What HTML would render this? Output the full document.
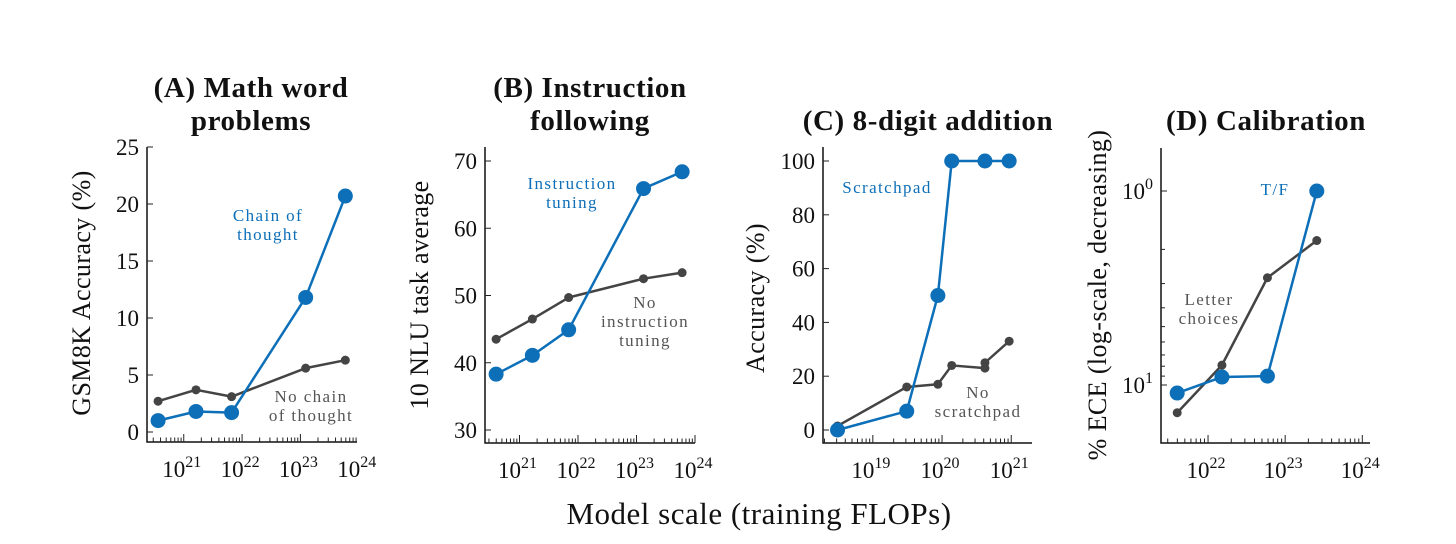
<!DOCTYPE html>
<html><head><meta charset="utf-8">
<style>
html,body{margin:0;padding:0;background:#fff;}
svg{display:block;font-family:"Liberation Serif","DejaVu Serif",serif;}
.title{font-weight:bold;font-size:29px;fill:#111;text-anchor:middle;letter-spacing:0.6px;}
.tick{font-size:23px;fill:#111;}
.ylab{font-size:26px;fill:#111;text-anchor:middle;letter-spacing:0.4px;}
.ann{font-size:17px;letter-spacing:1.4px;text-anchor:middle;}
</style></head>
<body>
<svg id="chart" width="1456" height="544">
<text class="title" x="251" y="97">(A) Math word</text>
<text class="title" x="251" y="130">problems</text>
<text class="title" x="590" y="97">(B) Instruction</text>
<text class="title" x="590" y="130">following</text>
<text class="title" x="928" y="130">(C) 8-digit addition</text>
<text class="title" x="1266" y="130">(D) Calibration</text>
<text x="759" y="524" style="font-size:31px;fill:#111;text-anchor:middle;letter-spacing:0.5px">Model scale (training FLOPs)</text>
</svg>
<script>
// Panel A data
const aLogX = [20.56, 21.21, 21.82, 23.09, 23.77];
const aCot = [1.0, 1.8, 1.7, 11.8, 20.7];
const aNoCot = [2.7, 3.7, 3.1, 5.6, 6.3];
const aYTicks = [0, 5, 10, 15, 20, 25];
const aXTicks = [21, 22, 23, 24];
// Panel B data
const bLogX = [20.6, 21.22, 21.84, 23.12, 23.78];
const bTuned = [38.3, 41.1, 44.9, 65.9, 68.4];
const bUntuned = [43.5, 46.5, 49.7, 52.5, 53.4];
const bYTicks = [30, 40, 50, 60, 70];
const bXTicks = [21, 22, 23, 24];
// Panel C data
const cLogXBlue = [18.49, 19.49, 19.94, 20.14, 20.62, 20.97];
const cScratch = [0, 7, 50, 100, 100, 100];
const cLogXGray = [18.49, 19.49, 19.94, 20.14, 20.62, 20.62, 20.97];
const cNoScratch = [1.5, 16, 17, 24, 23, 25, 33];
const cYTicks = [0, 20, 40, 60, 80, 100];
const cXTicks = [19, 20, 21];
// Panel D data (ECE; axis is log and decreasing)
const dLogX = [21.6, 22.18, 22.77, 23.41];
const dTF = [11, 9.1, 9.0, 1.0];
const dLetter = [13.9, 7.9, 2.8, 1.8];
const dYTicks = [1, 10];
const dXTicks = [22, 23, 24];

const NS = "http://www.w3.org/2000/svg";
const svg = document.getElementById('chart');
const BLUE = "#0d6fb8", GRAY = "#444";
function el(tag, attrs, parent) {
  const e = document.createElementNS(NS, tag);
  for (const k in attrs) e.setAttribute(k, attrs[k]);
  (parent || svg).appendChild(e);
  return e;
}
function powText(t, exp) {
  const s1 = el('tspan', {}, t); s1.textContent = '10';
  const s2 = el('tspan', {dy: -10, 'font-size': '16px'}, t); s2.textContent = String(exp);
}
function panel(cfg) {
  const g = el('g', {});
  
  
  const xs = v => cfg.x0 + (v - cfg.xmin) / (cfg.xmax - cfg.xmin) * (cfg.x1 - cfg.x0);
  const ys = cfg.ys;
  const ax = el('path', {d: `M${cfg.x0},${cfg.top} V${cfg.bottom} H${cfg.x1}`, fill: 'none', stroke: '#111', 'stroke-width': 1.5}, g);
  
  
  for (let d = Math.floor(cfg.xmin); d <= Math.ceil(cfg.xmax); d++) {
    for (let m = 1; m <= 9; m++) {
      const lv = d + Math.log10(m);
      if (lv < cfg.xmin || lv > cfg.xmax) continue;
      const x = xs(lv);
      const tk = el('line', {x1: x, x2: x, y1: cfg.bottom, y2: cfg.bottom - (m === 1 ? 8 : 4.5), stroke: '#222', 'stroke-width': 1}, g);
      
      
    }
  }
  cfg.xticks.forEach(d => {
    const t = el('text', {x: xs(d) - 2, y: cfg.bottom + 35, 'class': 'tick', 'text-anchor': 'middle'}, g);
    
    
    powText(t, d);
  });
  cfg.yticks.forEach(v => {
    const y = ys(v);
    const tk = el('line', {x1: cfg.x0, x2: cfg.x0 + 6, y1: y, y2: y, stroke: '#222', 'stroke-width': 1}, g);
    
    
    const t = el('text', {x: cfg.x0 - 8, y: y + 8, 'class': 'tick', 'text-anchor': 'end'}, g);
    
    
    if (cfg.ylog) powText(t, Math.round(Math.log10(v)));
    else t.textContent = v;
  });
  if (cfg.ylog) {
    [2,3,4,5,6,7,8,9,20].forEach(v => {
      const y = ys(v);
      if (y < cfg.top || y > cfg.bottom) return;
      const tk = el('line', {x1: cfg.x0, x2: cfg.x0 + 4, y1: y, y2: y, stroke: '#222', 'stroke-width': 1}, g);
      
      
    });
  }
  const yl = el('text', {x: 0, y: 0, 'class': 'ylab', transform: `translate(${cfg.ylx},${cfg.yly}) rotate(-90)`}, g);
  
  
  yl.textContent = cfg.ylabel;
  cfg.series.forEach(s => {
    const pts = s.xs.map((lx, i) => [xs(lx), ys(s.ys[i])]);
    const ln = el('polyline', {points: pts.map(p => p.join(',')).join(' '), fill: 'none', stroke: s.color, 'stroke-width': s.w, 'stroke-linejoin': 'round'}, g);
    
    
    pts.forEach(p => {
      const c = el('circle', {cx: p[0], cy: p[1], r: s.r, fill: s.color}, g);
      
      
    });
  });
  cfg.anns.forEach(a => {
    a.lines.forEach((line, i) => {
      const t = el('text', {x: a.x, y: a.y + i * 19, 'class': 'ann', fill: a.color}, g);
      
      
      t.textContent = line;
    });
  });
}
function lin(v0, y0, v1, y1) { return v => y0 + (v - v0) / (v1 - v0) * (y1 - y0); }

panel({name: 'panel-a', x0: 147, x1: 357, xmin: 20.37, xmax: 23.97, top: 147, bottom: 442,
  ys: lin(0, 432, 25, 147), yticks: aYTicks, xticks: aXTicks, ylabel: 'GSM8K Accuracy (%)', ylx: 90, yly: 293,
  series: [
    {name: 'no-chain-of-thought', xs: aLogX, ys: aNoCot, color: GRAY, w: 2.5, r: 4.5},
    {name: 'chain-of-thought', xs: aLogX, ys: aCot, color: BLUE, w: 2.5, r: 7.5}],
  anns: [{name: 'chain-of-thought-label', x: 268, y: 221, color: BLUE, lines: ['Chain of', 'thought']},
         {name: 'no-chain-label', x: 311, y: 402, color: '#555', lines: ['No chain', 'of thought']}]});

panel({name: 'panel-b', x0: 485, x1: 695, xmin: 20.41, xmax: 24.0, top: 147, bottom: 443,
  ys: lin(30, 430, 70, 161), yticks: bYTicks, xticks: bXTicks, ylabel: '10 NLU task average', ylx: 428, yly: 295,
  series: [
    {name: 'no-instruction-tuning', xs: bLogX, ys: bUntuned, color: GRAY, w: 2.5, r: 4.5},
    {name: 'instruction-tuning', xs: bLogX, ys: bTuned, color: BLUE, w: 2.5, r: 7.5}],
  anns: [{name: 'instruction-tuning-label', x: 572, y: 189, color: BLUE, lines: ['Instruction', 'tuning']},
         {name: 'no-instruction-label', x: 645, y: 308, color: '#555', lines: ['No', 'instruction', 'tuning']}]});

panel({name: 'panel-c', x0: 823, x1: 1032, xmin: 18.28, xmax: 21.3, top: 147, bottom: 443,
  ys: lin(0, 430, 100, 161), yticks: cYTicks, xticks: cXTicks, ylabel: 'Accuracy (%)', ylx: 764, yly: 298,
  series: [
    {name: 'no-scratchpad', xs: cLogXGray, ys: cNoScratch, color: GRAY, w: 2.5, r: 4.5},
    {name: 'scratchpad', xs: cLogXBlue, ys: cScratch, color: BLUE, w: 2.5, r: 7.5}],
  anns: [{name: 'scratchpad-label', x: 887, y: 193, color: BLUE, lines: ['Scratchpad']},
         {name: 'no-scratchpad-label', x: 978, y: 398, color: '#555', lines: ['No', 'scratchpad']}]});

panel({name: 'panel-d', x0: 1161, x1: 1370, xmin: 21.39, xmax: 24.1, top: 148, bottom: 443, ylog: true,
  ys: v => 191 + Math.log10(v) * 194, yticks: dYTicks, xticks: dXTicks, ylabel: '% ECE (log-scale, decreasing)', ylx: 1106, yly: 295,
  series: [
    {name: 'letter-choices', xs: dLogX, ys: dLetter, color: GRAY, w: 2.5, r: 4.5},
    {name: 'true-false', xs: dLogX, ys: dTF, color: BLUE, w: 2.5, r: 7.5}],
  anns: [{name: 'true-false-label', x: 1275, y: 195, color: BLUE, lines: ['T/F']},
         {name: 'letter-choices-label', x: 1209, y: 305, color: '#555', lines: ['Letter', 'choices']}]});
</script>
</body></html>
